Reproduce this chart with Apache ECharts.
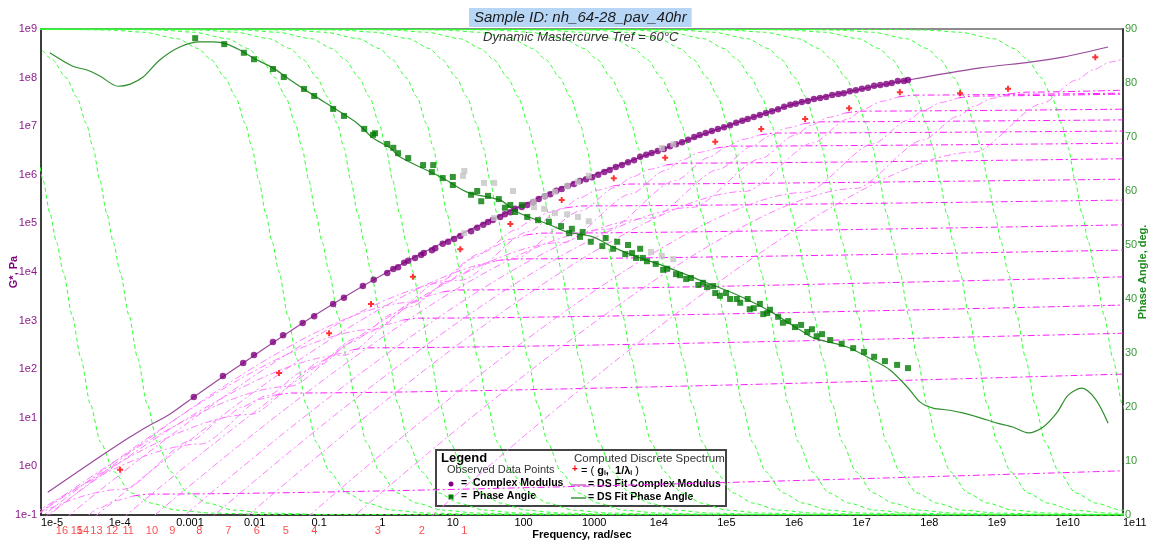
<!DOCTYPE html>
<html>
<head>
<meta charset="utf-8">
<script src="https://cdn.jsdelivr.net/npm/echarts@6/dist/echarts.min.js"></script>
<style>
html,body{margin:0;padding:0;background:#fff;}
#chart{width:1152px;height:542px;}
</style>
</head>
<body>
<div id="chart"></div>
<script>
// ---------- tick labels ----------
const xTickLabels = ['1e-5','1e-4','0.001','0.01','0.1','1','10','100','1000','1e4','1e5','1e6','1e7','1e8','1e9','1e10','1e11'];
const yTickLabels = ['1e-1','1e0','1e1','1e2','1e3','1e4','1e5','1e6','1e7','1e8','1e9'];

// ---------- observed complex modulus (log10 rad/s, log10 Pa) ----------
const cmLogFreq = [-2.74,-2.31,-2.01,-1.85,-1.57,-1.42,-1.13,-0.96,-0.68,-0.52,-0.24,-0.08,0.12,0.21,0.28,0.37,0.43,0.53,0.62,0.66,0.78,0.83,0.94,1.02,1.11,1.20,1.36,1.45,1.54,1.61,1.68,1.79,1.86,1.94,2.01,2.11,2.19,2.28,2.36,2.45,2.53,2.62,2.70,2.79,2.88,2.97,3.06,3.15,3.24,3.33,3.41,3.50,3.59,3.68,3.77,3.86,3.95,4.03,4.12,4.21,4.30,4.39,4.48,4.57,4.66,4.74,4.83,4.92,5.01,5.10,5.19,5.28,5.37,5.45,5.54,5.63,5.72,5.81,5.90,5.99,6.08,6.16,6.25,6.34,6.43,6.52,6.61,6.70,6.79,6.87,6.96,7.05,7.14,7.23,7.32,7.41,7.50,7.58,7.67,7.76,7.82];
const cmLogG = [1.43,1.86,2.13,2.29,2.56,2.70,2.95,3.09,3.34,3.47,3.71,3.84,3.98,4.06,4.10,4.19,4.23,4.29,4.35,4.39,4.45,4.49,4.58,4.62,4.68,4.74,4.84,4.91,4.97,5.03,5.07,5.13,5.19,5.23,5.30,5.34,5.38,5.44,5.50,5.56,5.60,5.67,5.71,5.77,5.81,5.87,5.91,5.95,6.00,6.06,6.10,6.16,6.20,6.26,6.30,6.37,6.41,6.45,6.49,6.53,6.59,6.63,6.67,6.72,6.78,6.82,6.86,6.90,6.94,6.98,7.02,7.07,7.11,7.15,7.19,7.23,7.27,7.31,7.35,7.40,7.44,7.46,7.50,7.52,7.56,7.58,7.60,7.64,7.66,7.68,7.72,7.74,7.77,7.79,7.83,7.85,7.87,7.89,7.93,7.93,7.95];
// excluded (grey) modulus points
const cmExLogFreq = [1.26,1.70,2.28,2.45,2.60,2.78,2.94,3.10,4.18,4.35];
const cmExLogG = [4.80,5.11,5.44,5.56,5.65,5.77,5.85,5.98,6.55,6.63];

// ---------- observed phase angle (log10 rad/s, deg) ----------
const paLogFreq = [-2.72,-2.29,-2.00,-1.85,-1.57,-1.41,-1.11,-0.96,-0.68,-0.52,-0.22,-0.09,-0.06,0.12,0.21,0.28,0.43,0.65,0.80,0.78,0.94,1.09,1.09,1.36,1.45,1.51,1.61,1.77,1.86,1.94,2.01,2.11,2.19,2.35,2.51,2.69,2.85,2.81,2.97,3.01,3.13,3.30,3.35,3.46,3.52,3.68,3.64,3.74,3.80,3.86,3.90,3.96,4.09,4.20,4.26,4.39,4.45,4.54,4.61,4.72,4.79,4.85,4.94,4.97,5.04,5.13,5.19,5.29,5.34,5.45,5.48,5.54,5.63,5.68,5.74,5.78,5.90,5.97,6.05,6.15,6.24,6.33,6.40,6.47,6.55,6.67,6.84,7.01,7.17,7.32,7.48,7.66,7.82];
const paDeg = [88.3,87.2,85.6,84.4,82.6,81.1,78.9,77.6,75.2,73.9,71.5,70.4,70.7,68.7,68.0,67.0,66.1,64.8,64.8,63.5,62.4,62.6,61.1,59.3,60.0,58.1,59.1,58.5,56.9,57.4,56.1,57.4,55.2,54.6,54.3,53.5,53.0,52.2,51.5,52.4,50.6,49.8,51.3,49.3,50.6,50.0,48.3,48.5,47.6,49.3,47.6,47.0,46.5,45.4,45.6,44.6,44.4,43.7,43.9,42.6,43.0,42.2,42.4,41.1,40.6,41.1,40.0,40.0,39.3,40.0,38.1,38.3,39.1,37.2,37.4,38.0,36.7,35.6,35.9,34.8,35.2,33.9,34.4,33.1,33.5,32.4,31.7,30.9,30.2,29.3,28.5,27.8,27.2];
// excluded (grey) phase points
const paExLogFreq = [1.26,1.24,1.55,1.70,1.98,2.29,2.44,2.60,2.78,2.94,3.10,4.02,4.18,4.35];
const paExDeg = [63.7,62.8,61.5,61.5,60.0,57.0,56.7,55.9,55.7,55.2,54.4,48.7,48.0,47.4];

// ---------- DS fit curves ----------
const mfLogFreq = [-4.90,-3.98,-3.49,-3.09,-2.74,-2.01,-1.13,-0.24,0.50,1.27,1.94,2.79,3.67,4.57,5.45,6.25,7.01,7.82,8.89,9.63,10.11,10.78];
const mfLogG = [-0.53,0.34,0.77,1.08,1.43,2.13,2.95,3.71,4.29,4.82,5.26,5.79,6.26,6.72,7.15,7.50,7.73,7.95,8.20,8.32,8.42,8.63];
const pfLogFreq = [-4.87,-4.53,-4.32,-4.13,-3.86,-3.68,-3.49,-3.24,-2.94,-2.65,-2.46,-2.25,-2.06,-1.81,-1.57,-1.32,-0.98,-0.62,-0.33,-0.09,0.16,0.31,0.94,1.30,1.79,2.04,2.53,2.78,3.16,3.46,3.75,4.26,4.74,5.23,5.74,6.22,6.42,6.92,7.30,7.55,7.81,8.00,8.19,8.44,8.63,8.89,9.14,9.37,9.60,9.82,10.02,10.19,10.39,10.59,10.78];
const pfDeg = [85.6,83.1,82.4,81.3,79.4,79.8,81.1,84.3,86.7,87.6,87.6,87.2,86.1,84.3,82.8,80.6,77.8,75.0,72.6,69.8,68.0,66.3,62.4,59.8,58.3,56.1,53.7,52.4,51.5,49.6,48.1,45.9,43.5,41.1,38.0,34.3,32.8,31.1,28.7,26.9,23.7,20.9,19.8,19.4,18.9,18.0,17.0,16.3,15.2,16.3,18.9,22.2,23.5,21.5,17.0];

// ---------- computed discrete spectrum (g_i, 1/lambda_i) ----------
const specLogFreq = [-3.83,-1.48,-0.74,-0.12,0.50,1.20,1.94,2.70,3.47,4.23,4.97,5.65,6.30,6.95,7.70,8.59,9.30,10.59];
const specLogG = [-0.07,1.92,2.74,3.34,3.90,4.47,4.99,5.48,5.93,6.35,6.68,6.94,7.15,7.37,7.70,7.68,7.77,8.42];
const specLabelText = ['16','15','14','13','12','11','10','9','8','7','6','5','4','3','2','1'];
const specLabelLogFreq = [-4.69,-4.47,-4.38,-4.18,-3.95,-3.71,-3.36,-3.06,-2.66,-2.23,-1.81,-1.38,-0.96,-0.02,0.63,1.26];

// ---------- per-mode component curves ----------
const phaseModeCenterExp = [-4.67,-3.83,-1.48,-0.74,-0.12,0.50,1.20,1.94,2.70,3.47,4.23,4.97,5.65,6.30,6.95,7.70,8.59,9.30,10.59];
const phaseModeShape = [[-16,90],[-3,89.9],[-2.5,89.8],[-2,89.4],[-1.5,88.2],[-1.2,86.4],[-1,84.3],[-0.8,81],[-0.64,77.4],[-0.5,72.5],[-0.4,68],[-0.3,62],[-0.2,56],[-0.1,50.5],[0,45],[0.13,37],[0.26,29],[0.4,20.5],[0.55,13.5],[0.75,8],[1,4.1],[1.3,2.2],[1.67,0.9],[2.2,0.35],[3,0.1],[16,0]];
const modeCornerExp = [-3.89,-1.78,-0.64,0.10,0.69,1.48,1.92,2.51,3.21,3.99,4.73,5.38,6.02,6.64,7.42,8.31,9.05,10.81];
const modePlateauExp = [-0.55,1.53,2.46,3.07,3.65,4.29,4.82,5.38,5.83,6.26,6.61,6.88,7.11,7.33,7.66,7.64,7.72,8.47];
const modeHighEndExp = [-0.09,1.90,2.74,3.32,3.90,4.45,4.97,5.48,5.91,6.33,6.65,6.90,7.13,7.35,7.68,7.66,7.74,8.47];
const modulusRiseShape = [[-12,-12],[-2,-2],[-1,-1.0],[-0.5,-0.52],[-0.25,-0.31],[0,-0.15],[0.25,-0.06]];
const modulusFlatShape = [[0.25,-0.06],[0.5,-0.02]];

const FONT = '"Liberation Sans", Arial, sans-serif';
const zip = (a, b) => a.map((v, i) => [v, b[i]]);

const series = [];
phaseModeCenterExp.forEach((c) => {
  series.push({
    type: 'line', yAxisIndex: 1, silent: true, showSymbol: false, smooth: 0.25, smoothMonotone: 'x',
    z: 1, animation: false,
    lineStyle: { color: '#33ff33', width: 1, type: [4, 3] },
    data: phaseModeShape.map(([dx, d]) => [c + dx, d])
  });
});
modeCornerExp.forEach((cx, i) => {
  const rise = modulusRiseShape.map(([dx, dy]) => [cx + dx, modePlateauExp[i] + dy]);
  const flat = modulusFlatShape.map(([dx, dy]) => [cx + dx, modePlateauExp[i] + dy]);
  if (cx + 0.5 < 11) flat.push([11, modeHighEndExp[i]]);
  series.push({
    type: 'line', yAxisIndex: 0, silent: true, showSymbol: false, smooth: 0.25, smoothMonotone: 'x',
    z: 1, animation: false,
    lineStyle: { color: '#ff7dff', width: 1, type: [7, 3, 2, 3] },
    data: rise
  });
  series.push({
    type: 'line', yAxisIndex: 0, silent: true, showSymbol: false, smooth: 0.25, smoothMonotone: 'x',
    z: 1, animation: false,
    lineStyle: { color: '#ff1aff', width: 1, type: [7, 3, 2, 3] },
    data: flat
  });
});
series.push({
  type: 'line', yAxisIndex: 0, showSymbol: false, smooth: 0.3, z: 3, animation: false,
  lineStyle: { color: '#9a4a9a', width: 1.2 }, data: zip(mfLogFreq, mfLogG)
});
series.push({
  type: 'line', yAxisIndex: 1, showSymbol: false, smooth: 0.3, z: 3, animation: false,
  lineStyle: { color: '#2f8f2f', width: 1.2 }, data: zip(pfLogFreq, pfDeg)
});
series.push({
  type: 'scatter', yAxisIndex: 1, symbol: 'rect', symbolSize: 6, z: 4, animation: false,
  itemStyle: { color: '#c4c4c4' }, data: zip(paExLogFreq, paExDeg)
});
series.push({
  type: 'scatter', yAxisIndex: 0, symbol: 'circle', symbolSize: 6.5, z: 5, animation: false,
  itemStyle: { color: '#800080' }, data: zip(cmLogFreq, cmLogG)
});
series.push({
  type: 'scatter', yAxisIndex: 0, symbol: 'rect', symbolSize: 6, z: 5, animation: false,
  itemStyle: { color: '#c4c4c4' }, data: zip(cmExLogFreq, cmExLogG)
});
series.push({
  type: 'scatter', yAxisIndex: 1, symbol: 'rect', symbolSize: 6, z: 5, animation: false,
  itemStyle: { color: '#007a00' }, data: zip(paLogFreq, paDeg)
});
series.push({
  type: 'scatter', yAxisIndex: 0, symbol: 'path://M2,0H4V2H6V4H4V6H2V4H0V2H2Z', symbolSize: 6, z: 6, animation: false,
  itemStyle: { color: '#ff0000' }, data: zip(specLogFreq, specLogG)
});
series.push({
  type: 'scatter', yAxisIndex: 0, symbolSize: 0, z: 6, animation: false, clip: false, silent: true,
  label: { show: true, position: 'inside', formatter: (p) => p.name, color: '#ff2020', fontSize: 11, fontFamily: FONT },
  data: specLabelText.map((t, i) => ({ name: t, value: [specLabelLogFreq[i], -1.33] }))
});

const option = {
  backgroundColor: '#ffffff',
  animation: false,
  textStyle: { fontFamily: FONT },
  title: [
    { text: 'Sample ID: nh_64-28_pav_40hr', left: 469, top: 8, backgroundColor: '#b7d6f6', padding: [2, 5, 2, 5],
      textStyle: { fontStyle: 'italic', fontWeight: 'normal', fontSize: 15, color: '#1a1a1a', fontFamily: FONT } },
    { text: 'Dynamic Mastercurve Tref = 60°C', left: 483, top: 31, padding: 0,
      textStyle: { fontStyle: 'italic', fontWeight: 'normal', fontSize: 13, color: '#333', fontFamily: FONT } }
  ],
  grid: { left: 41, right: 29, top: 29, bottom: 27, containLabel: false, outerBoundsMode: 'none',
          show: true, borderColor: '#8c8c8c', borderWidth: 2, backgroundColor: 'transparent' },
  xAxis: {
    type: 'value', min: -5, max: 11, interval: 1,
    name: 'Frequency, rad/sec', nameLocation: 'middle', nameGap: 14, nameMoveOverlap: false,
    nameTextStyle: { fontWeight: 'bold', fontSize: 11, color: '#000', fontFamily: FONT },
    axisLine: { show: true, onZero: false, lineStyle: { color: '#222', width: 1.5 } },
    axisTick: { show: false }, splitLine: { show: false },
    axisLabel: { formatter: (v) => xTickLabels[Math.round(v + 5)], align: 'left', margin: 2, fontSize: 11, color: '#000', fontFamily: FONT }
  },
  yAxis: [
    {
      type: 'value', min: -1, max: 9, interval: 1, position: 'left',
      name: 'G*, Pa', nameLocation: 'middle', nameRotate: 90, nameGap: 22, nameMoveOverlap: false,
      nameTextStyle: { fontWeight: 'bold', fontSize: 11, color: '#800080', fontFamily: FONT },
      axisLine: { show: true, onZero: false, lineStyle: { color: '#222', width: 1.5 } },
      axisTick: { show: false }, splitLine: { show: false },
      axisLabel: { formatter: (v) => yTickLabels[Math.round(v + 1)], margin: 4, fontSize: 11, color: '#8a1a8a', fontFamily: FONT }
    },
    {
      type: 'value', min: 0, max: 90, interval: 10, position: 'right',
      name: 'Phase Angle, deg.', nameLocation: 'middle', nameRotate: 90, nameGap: 14, nameMoveOverlap: false,
      nameTextStyle: { fontWeight: 'bold', fontSize: 11, color: '#1f8a1f', fontFamily: FONT },
      axisLine: { show: true, onZero: false, lineStyle: { color: '#222', width: 1.5 } },
      axisTick: { show: false }, splitLine: { show: false },
      axisLabel: { margin: 2, fontSize: 11, color: '#3a9a3a', fontFamily: FONT }
    }
  ],
  series: series,
  graphic: [
    { type: 'group', left: 435, top: 449, z: 100, children: [
      { type: 'rect', shape: { x: 0, y: 0, width: 290, height: 56 }, style: { fill: '#fff', stroke: '#444', lineWidth: 2 } },
      { type: 'text', x: 5, y: 2, style: { text: 'Legend', font: 'bold 13px ' + FONT, fill: '#000' } },
      { type: 'text', x: 11, y: 14, style: { text: 'Observed Data Points', font: '11px ' + FONT, fill: '#333' } },
      { type: 'circle', shape: { cx: 15, cy: 34, r: 2.5 }, style: { fill: '#800080' } },
      { type: 'text', x: 25, y: 28, style: { text: '=  Complex Modulus', font: 'bold 10.5px ' + FONT, fill: '#000' } },
      { type: 'rect', shape: { x: 12.5, y: 44.5, width: 5, height: 5 }, style: { fill: '#007a00' } },
      { type: 'text', x: 25, y: 41, style: { text: '=  Phase Angle', font: 'bold 10.5px ' + FONT, fill: '#000' } },
      { type: 'text', x: 138, y: 3, style: { text: 'Computed Discrete Spectrum', font: '11.5px ' + FONT, fill: '#333' } },
      { type: 'text', x: 136, y: 14, style: { text: '+', font: 'bold 10px ' + FONT, fill: '#ff0000' } },
      { type: 'text', x: 145, y: 14, style: { text: '= ( {s|g}{i|i}{s|,  1/λ}{i|i} )', font: '11px ' + FONT, fill: '#000',
          rich: { s: { font: 'bold 11px ' + FONT, fill: '#000' }, i: { font: 'bold 7px ' + FONT, fill: '#000', padding: [6, 0, 0, 0] } } } },
      { type: 'line', shape: { x1: 135, y1: 35, x2: 150, y2: 35 }, style: { stroke: '#cc66cc', lineWidth: 1.5 } },
      { type: 'text', x: 152, y: 29, style: { text: '= DS Fit Complex Modulus', font: 'bold 10.5px ' + FONT, fill: '#000' } },
      { type: 'line', shape: { x1: 135, y1: 48, x2: 150, y2: 48 }, style: { stroke: '#3a9a3a', lineWidth: 1.5 } },
      { type: 'text', x: 152, y: 42, style: { text: '= DS Fit Phase Angle', font: 'bold 10.5px ' + FONT, fill: '#000' } }
    ] }
  ]
};

const chart = echarts.init(document.getElementById('chart'), null, { renderer: 'canvas' });
chart.setOption(option);
</script>
</body>
</html>
